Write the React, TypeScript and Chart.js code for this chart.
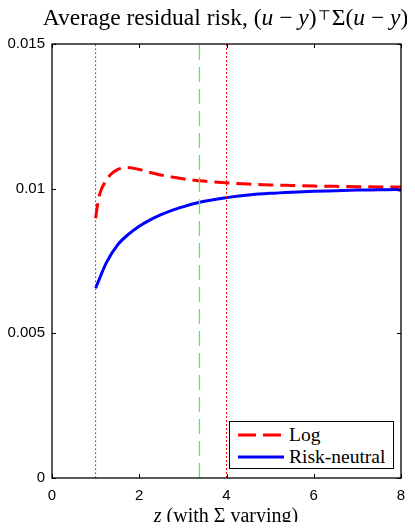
import React, { useEffect, useRef } from "react";
import { Chart, registerables } from "chart.js";

Chart.register(...registerables);

// Data
const zLog = [1, 1.07, 1.14, 1.2, 1.3, 1.4, 1.5, 1.6, 1.7, 1.8, 2, 2.25, 2.5, 2.75, 3, 3.38, 4, 4.5, 5, 5.5, 6, 6.5, 7, 7.5, 8];
const logRisk = [0.00898, 0.00967, 0.01001, 0.01018, 0.01041, 0.01056, 0.01066, 0.01071, 0.01073, 0.01072, 0.01066, 0.01056, 0.01047, 0.0104, 0.01034, 0.01027, 0.0102, 0.01016, 0.01013, 0.01011, 0.01009, 0.01008, 0.01007, 0.01006, 0.01006];
const zRN = [1, 1.25, 1.5, 1.75, 2, 2.25, 2.5, 2.75, 3, 3.38, 4, 4.5, 5, 5.5, 6, 6.5, 7, 7.5, 7.9, 8];
const rnRisk = [0.00656, 0.00745, 0.00805, 0.00842, 0.0087, 0.00892, 0.0091, 0.00925, 0.00937, 0.00953, 0.00969, 0.00978, 0.00984, 0.00988, 0.00991, 0.00993, 0.00995, 0.00996, 0.00997, 0.00994];

const markerBlackZ = 1;
const markerGreenZ = 3.38;
const markerRedZ = 4;

const xTicks = [0, 2, 4, 6, 8];
const xTickLabels = ["0", "2", "4", "6", "8"];
const yTicks = [0, 0.005, 0.01, 0.015];
const yTickLabels = ["0", "0.005", "0.01", "0.015"];
const yMin = 0;
const yMax = 0.015;
const xMin = 0;
const xMax = 8;

const seriesNames = ["Log", "Risk-neutral"];

const frameAndTicks = {
  id: "frameAndTicks",
  afterDraw(chart: any) {
    const { ctx, chartArea: a, scales } = chart;
    ctx.save();
    ctx.strokeStyle = "#000";
    ctx.lineWidth = 1;
    ctx.setLineDash([]);
    const L = 4;
    ctx.beginPath();
    for (const v of xTicks) {
      const px = Math.round(scales.x.getPixelForValue(v)) + 0.5;
      ctx.moveTo(px, a.bottom);
      ctx.lineTo(px, a.bottom - L);
      ctx.moveTo(px, a.top);
      ctx.lineTo(px, a.top + L);
    }
    for (const v of yTicks) {
      const py = Math.round(scales.y.getPixelForValue(v)) + 0.5;
      ctx.moveTo(a.left, py);
      ctx.lineTo(a.left + L, py);
      ctx.moveTo(a.right, py);
      ctx.lineTo(a.right - L, py);
    }
    ctx.stroke();
    ctx.lineWidth = 1.3;
    ctx.strokeRect(a.left, a.top, a.right - a.left, a.bottom - a.top);
    ctx.restore();
  },
};

function vline(z: number, color: string, dash: number[], width: number) {
  return {
    label: "",
    data: [
      { x: z, y: yMin },
      { x: z, y: yMax },
    ],
    borderColor: color,
    borderWidth: width,
    borderDash: dash,
    pointRadius: 0,
    showLine: true,
    fill: false,
  };
}

export default function App() {
  const ref = useRef<HTMLCanvasElement>(null);
  useEffect(() => {
    if (!ref.current) return;
    const chart = new Chart(ref.current, {
      type: "scatter",
      data: {
        datasets: [
          vline(markerBlackZ, "#333333", [1.5, 2.5], 1),
          vline(markerGreenZ, "#5de85d", [15, 7], 1.3),
          vline(markerRedZ, "#ff0000", [2, 2], 1),
          {
            label: seriesNames[1],
            data: zRN.map((z, i) => ({ x: z, y: rnRisk[i] })),
            borderColor: "#0000ff",
            borderWidth: 3,
            pointRadius: 0,
            showLine: true,
            cubicInterpolationMode: "monotone",
            fill: false,
          } as any,
          {
            label: seriesNames[0],
            data: zLog.map((z, i) => ({ x: z, y: logRisk[i] })),
            borderColor: "#ff0000",
            borderWidth: 3,
            borderDash: [15, 7],
            pointRadius: 0,
            showLine: true,
            cubicInterpolationMode: "monotone",
            fill: false,
          } as any,
        ],
      },
      options: {
        animation: false,
        responsive: false,
        devicePixelRatio: 1,
        layout: { padding: { top: 44, right: 14, left: 0, bottom: 0 } },
        plugins: { legend: { display: false }, tooltip: { enabled: false }, title: { display: false } },
        scales: {
          x: {
            type: "linear",
            min: xMin,
            max: xMax,
            grid: { display: false, drawTicks: false },
            border: { display: false },
            afterBuildTicks: (s: any) => {
              s.ticks = xTicks.map((v) => ({ value: v }));
            },
            afterFit: (s: any) => {
              s.height = 52;
            },
            ticks: {
              padding: 9,
              color: "#000",
              font: { family: "Liberation Sans", size: 15 },
              callback: (v: any) => xTickLabels[xTicks.indexOf(Number(v))] ?? "",
            },
          },
          y: {
            type: "linear",
            min: yMin,
            max: yMax,
            grid: { display: false, drawTicks: false },
            border: { display: false },
            afterBuildTicks: (s: any) => {
              s.ticks = yTicks.map((v) => ({ value: v }));
            },
            afterFit: (s: any) => {
              s.width = 52;
            },
            ticks: {
              padding: 7,
              color: "#000",
              font: { family: "Liberation Sans", size: 15 },
              callback: (v: any) => {
                const i = yTicks.findIndex((t) => Math.abs(t - Number(v)) < 1e-9);
                return i >= 0 ? yTickLabels[i] : "";
              },
            },
          },
        },
      },
      plugins: [frameAndTicks],
    });
    return () => chart.destroy();
  }, []);

  const serif = "'Liberation Serif', 'DejaVu Serif', serif";
  return (
    <div style={{ position: "relative", width: 415, height: 530, margin: -8, background: "#fff", overflow: "hidden" }}>
      <canvas ref={ref} width={415} height={530} style={{ display: "block", position: "absolute", left: 0, top: 0 }} />
      <div
        style={{
          position: "absolute",
          left: 0,
          width: 451,
          top: 3,
          textAlign: "center",
          fontFamily: serif,
          fontSize: 23.5,
          lineHeight: "28px",
          color: "#000",
          whiteSpace: "nowrap",
        }}
      >
        Average residual risk, (<i>u</i> − <i>y</i>)
        <span style={{ fontFamily: "'DejaVu Serif'", fontSize: 14, position: "relative", top: -5, padding: "0 1px" }}>⊤</span>
        Σ(<i>u</i> − <i>y</i>)
      </div>
      <div
        style={{
          position: "absolute",
          left: 0,
          width: 452,
          top: 503,
          textAlign: "center",
          fontFamily: serif,
          fontSize: 20,
          lineHeight: "24px",
          color: "#000",
          whiteSpace: "nowrap",
        }}
      >
        <i>z</i> (with Σ varying)
      </div>
      <div
        style={{
          position: "absolute",
          left: 229,
          top: 421,
          width: 163,
          height: 46,
          border: "1.3px solid #000",
          background: "#fff",
          fontFamily: serif,
          fontSize: 19.5,
          color: "#000",
        }}
      >
        <div style={{ position: "absolute", left: 8, top: 2, height: 22, display: "flex", alignItems: "center" }}>
          <svg width={46} height={6} style={{ display: "block" }}>
            <line x1={0} y1={3} x2={46} y2={3} stroke="#ff0000" strokeWidth={3} strokeDasharray="18 7" />
          </svg>
          <span style={{ marginLeft: 5, lineHeight: "22px" }}>{seriesNames[0]}</span>
        </div>
        <div style={{ position: "absolute", left: 8, top: 24, height: 22, display: "flex", alignItems: "center" }}>
          <svg width={46} height={6} style={{ display: "block" }}>
            <line x1={0} y1={3} x2={46} y2={3} stroke="#0000ff" strokeWidth={3} />
          </svg>
          <span style={{ marginLeft: 5, lineHeight: "22px" }}>{seriesNames[1]}</span>
        </div>
      </div>
    </div>
  );
}
